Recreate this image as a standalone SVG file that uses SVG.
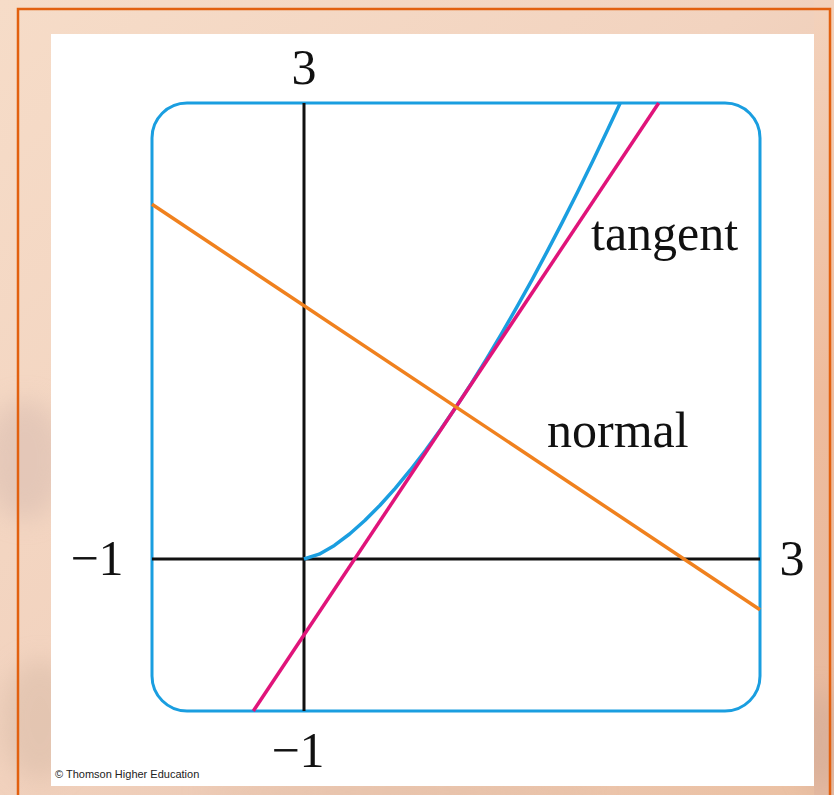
<svg xmlns="http://www.w3.org/2000/svg" width="834" height="795" viewBox="0 0 834 795">
  <defs>
    <linearGradient id="bg" x1="0" y1="0" x2="1" y2="1">
      <stop offset="0" stop-color="#f6dcc8"/>
      <stop offset="0.45" stop-color="#f2d3bf"/>
      <stop offset="0.7" stop-color="#ecc9b4"/>
      <stop offset="1" stop-color="#ebc0a2"/>
    </linearGradient>
    <linearGradient id="side" x1="0" y1="0" x2="0" y2="1">
      <stop offset="0" stop-color="#f3d2bc"/>
      <stop offset="0.5" stop-color="#eebb9c"/>
      <stop offset="1" stop-color="#e5b9a0"/>
    </linearGradient>
    <filter id="blur" x="-50%" y="-50%" width="200%" height="200%">
      <feGaussianBlur stdDeviation="12"/>
    </filter>
    <style>
      .frame { fill: none; stroke: #e2600f; stroke-width: 2.5; }
      .box { fill: none; stroke: #1a9ee0; stroke-width: 3; }
      .axis { stroke: #111; stroke-width: 3; fill: none; }
      .curve { fill: none; stroke: #1a9ee0; stroke-width: 3.5; stroke-linejoin: round; }
      .tangent { stroke: #e0147a; stroke-width: 3.5; fill: none; }
      .normal { stroke: #f0811e; stroke-width: 3.5; fill: none; }
      .lbl { font-family: "Liberation Serif", "Times New Roman", serif; font-size: 50px; fill: #111; }
      .copy { font-family: "Liberation Sans", Arial, sans-serif; font-size: 11px; fill: #222; }
    </style>
  </defs>

  <!-- background -->
  <rect x="0" y="0" width="834" height="795" fill="url(#bg)"/>
  <rect x="814" y="0" width="20" height="795" fill="url(#side)"/>
  <g filter="url(#blur)" opacity="0.55">
    <ellipse cx="25" cy="460" rx="40" ry="60" fill="#d8bcb0"/>
    <ellipse cx="40" cy="720" rx="40" ry="60" fill="#d9bca8"/>
    <ellipse cx="820" cy="740" rx="20" ry="50" fill="#cfa894"/>
    <ellipse cx="400" cy="792" rx="200" ry="10" fill="#e2bca2"/>
  </g>
  <rect class="frame" x="18" y="9" width="812" height="800"/>

  <!-- white panel -->
  <rect x="51" y="34" width="763" height="752" fill="#ffffff"/>

  <g id="frame-box">
    <rect class="box" x="152" y="103" width="608" height="608" rx="35" ry="35"/>
  </g>

  <g id="axes">
    <line class="axis" x1="152" y1="559" x2="760" y2="559"/>
    <line class="axis" x1="304" y1="103" x2="304" y2="711"/>
  </g>

  <g id="connectors">
    <path id="curve" class="curve" d="M304,559 L319.2,554.19 L334.4,545.40 L349.6,534.02 L364.8,520.55 L380,505.26 L395.2,488.36 L410.4,469.98 L425.6,450.24 L440.8,429.22 L456,407 L471.2,383.73 L486.4,359.19 L501.6,333.72 L516.8,307.21 L532,279.87 L547.2,251.37 L562.4,222.10 L577.6,191.93 L592.8,160.92 L608,129.08 L620.2,103"/>
    <line id="tangent-line" class="tangent" x1="253.3" y1="711" x2="658.7" y2="103"/>
    <line id="normal-line" class="normal" x1="152" y1="204.3" x2="760" y2="609.7"/>
  </g>

  <g id="labels">
    <text class="lbl" x="304" y="84" text-anchor="middle">3</text>
    <text class="lbl" x="298" y="767" text-anchor="middle">−1</text>
    <text class="lbl" x="97" y="575" text-anchor="middle">−1</text>
    <text class="lbl" x="792" y="575" text-anchor="middle">3</text>
    <text id="tangent-label" class="lbl" x="591" y="250">tangent</text>
    <text id="normal-label" class="lbl" x="547" y="447">normal</text>
    <text class="copy" x="55" y="778">© Thomson Higher Education</text>
  </g>
</svg>
